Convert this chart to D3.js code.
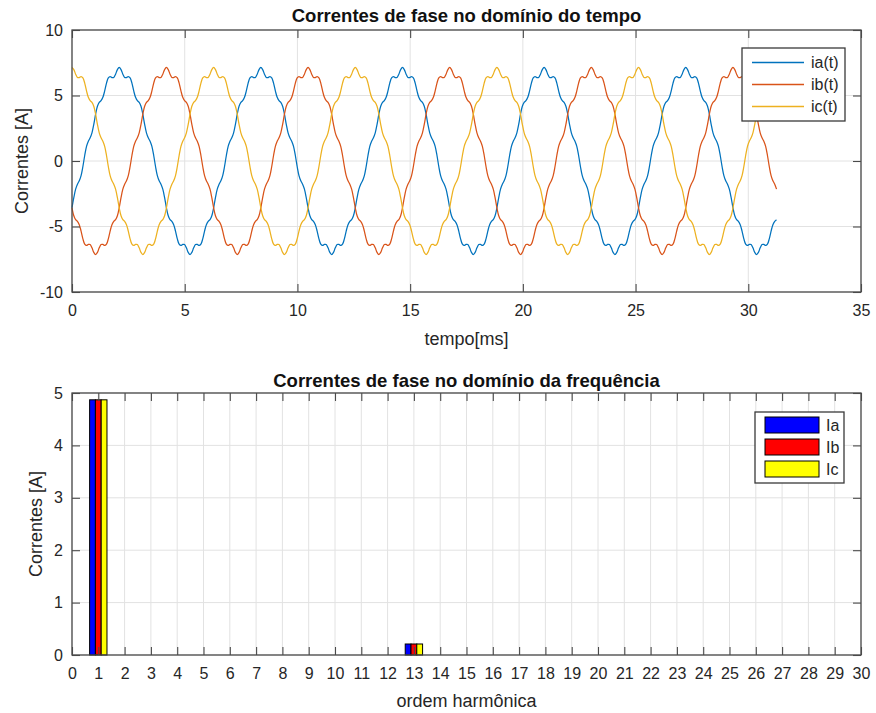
<!DOCTYPE html>
<html>
<head>
<meta charset="utf-8">
<script src="https://cdn.jsdelivr.net/npm/d3@7"></script>
<style>
    body { margin: 0; background: #fff; }
    text { font-family: "Liberation Sans", Arial, sans-serif; fill: #262626; }
</style>
</head>
<body>
<svg id="chart" width="876" height="713"></svg>
<script>
/* phase currents in the time domain, one fundamental cycle (78 samples), [A] */
var iaCycle = [
    -3.57, -2.80, -2.15, -1.77, -1.51, -1.11, -0.42, 0.42, 1.11, 1.51, 1.77, 2.15, 2.80,
    3.57, 4.18, 4.48, 4.61, 4.86, 5.35, 5.94, 6.35, 6.45, 6.37, 6.38, 6.63, 6.98,
    7.14, 6.98, 6.63, 6.38, 6.37, 6.45, 6.35, 5.94, 5.35, 4.86, 4.61, 4.48, 4.18,
    3.57, 2.80, 2.15, 1.77, 1.51, 1.11, 0.42, -0.42, -1.11, -1.51, -1.77, -2.15, -2.80,
    -3.57, -4.18, -4.48, -4.61, -4.86, -5.35, -5.94, -6.35, -6.45, -6.37, -6.38, -6.63, -6.98,
    -7.14, -6.98, -6.63, -6.38, -6.37, -6.45, -6.35, -5.94, -5.35, -4.86, -4.61, -4.48, -4.18
];
var ibCycle = [
    -3.57, -4.18, -4.48, -4.61, -4.86, -5.35, -5.94, -6.35, -6.45, -6.37, -6.38, -6.63, -6.98,
    -7.14, -6.98, -6.63, -6.38, -6.37, -6.45, -6.35, -5.94, -5.35, -4.86, -4.61, -4.48, -4.18,
    -3.57, -2.80, -2.15, -1.77, -1.51, -1.11, -0.42, 0.42, 1.11, 1.51, 1.77, 2.15, 2.80,
    3.57, 4.18, 4.48, 4.61, 4.86, 5.35, 5.94, 6.35, 6.45, 6.37, 6.38, 6.63, 6.98,
    7.14, 6.98, 6.63, 6.38, 6.37, 6.45, 6.35, 5.94, 5.35, 4.86, 4.61, 4.48, 4.18,
    3.57, 2.80, 2.15, 1.77, 1.51, 1.11, 0.42, -0.42, -1.11, -1.51, -1.77, -2.15, -2.80
];
var icCycle = [
    7.14, 6.98, 6.63, 6.38, 6.37, 6.45, 6.35, 5.94, 5.35, 4.86, 4.61, 4.48, 4.18,
    3.57, 2.80, 2.15, 1.77, 1.51, 1.11, 0.42, -0.42, -1.11, -1.51, -1.77, -2.15, -2.80,
    -3.57, -4.18, -4.48, -4.61, -4.86, -5.35, -5.94, -6.35, -6.45, -6.37, -6.38, -6.63, -6.98,
    -7.14, -6.98, -6.63, -6.38, -6.37, -6.45, -6.35, -5.94, -5.35, -4.86, -4.61, -4.48, -4.18,
    -3.57, -2.80, -2.15, -1.77, -1.51, -1.11, -0.42, 0.42, 1.11, 1.51, 1.77, 2.15, 2.80,
    3.57, 4.18, 4.48, 4.61, 4.86, 5.35, 5.94, 6.35, 6.45, 6.37, 6.38, 6.63, 6.98
];
var sampleStep = 0.08055;   // ms between samples
var sampleCount = 389;      // record runs 0 .. ~31.3 ms

var timeSeries = ["ia(t)", "ib(t)", "ic(t)"];
var timeColors = ["#0072bd", "#d95319", "#edb120"];
var timeTicks = [0, 5, 10, 15, 20, 25, 30, 35];
var currentTicks = [-10, -5, 0, 5, 10];

/* phase currents in the frequency domain (rms per harmonic order) */
var harmonicOrder = [1, 13];
var iaRms = [4.87, 0.21];
var ibRms = [4.87, 0.21];
var icRms = [4.87, 0.21];
var freqSeries = ["Ia", "Ib", "Ic"];
var freqColors = ["#0000ff", "#ff0000", "#ffff00"];
var harmonicTicks = [0, 1, 2, 3, 4, 5, 6, 7, 8, 9, 10, 11, 12, 13, 14, 15, 16, 17, 18, 19, 20,
    21, 22, 23, 24, 25, 26, 27, 28, 29, 30];
var rmsTicks = [0, 1, 2, 3, 4, 5];

var svg = d3.select("#chart");
var axisColor = "#4a4a4a",
    gridColor = "#e2e2e2";

// plain hyphen for negatives, like the matlab figure
var fmt = function(d) { return String(d); };

/* grid lines behind the data */
function drawFrame(g, x, y, xTicks, yTicks) {
    var x0 = x.range()[0], x1 = x.range()[1],
        y0 = y.range()[0], y1 = y.range()[1];

    var grid = g.append("g").attr("class", "grid");
    grid.selectAll("line.gx").data(xTicks).enter().append("line")
        .attr("class", "gx")
        .attr("x1", function(d) { return x(d); }).attr("x2", function(d) { return x(d); })
        .attr("y1", y0).attr("y2", y1)
        .attr("stroke", gridColor).attr("stroke-width", 1);
    grid.selectAll("line.gy").data(yTicks).enter().append("line")
        .attr("class", "gy")
        .attr("x1", x0).attr("x2", x1)
        .attr("y1", function(d) { return y(d); }).attr("y2", function(d) { return y(d); })
        .attr("stroke", gridColor).attr("stroke-width", 1);
}

/* box + inward ticks on all 4 sides */
function drawAxes(g, x, y, xTicks, yTicks) {
    var x0 = x.range()[0], x1 = x.range()[1],
        y0 = y.range()[0], y1 = y.range()[1];

    var bottom = g.append("g").attr("transform", "translate(0," + y0 + ")")
        .call(d3.axisBottom(x).tickValues(xTicks).tickSize(-8).tickPadding(13).tickFormat(fmt));
    var top = g.append("g").attr("transform", "translate(0," + y1 + ")")
        .call(d3.axisTop(x).tickValues(xTicks).tickSize(-8).tickFormat(""));
    var left = g.append("g").attr("transform", "translate(" + x0 + ",0)")
        .call(d3.axisLeft(y).tickValues(yTicks).tickSize(-8).tickPadding(9).tickFormat(fmt));
    var right = g.append("g").attr("transform", "translate(" + x1 + ",0)")
        .call(d3.axisRight(y).tickValues(yTicks).tickSize(-8).tickFormat(""));

    [bottom, top, left, right].forEach(function(a) {
        a.select(".domain").remove();
        a.selectAll(".tick line").attr("stroke", axisColor).attr("stroke-width", 1.1);
        a.selectAll(".tick text").attr("font-size", 16).attr("fill", "#333")
            .attr("font-family", "Liberation Sans, Arial, sans-serif");
    });

    g.append("rect")
        .attr("x", x0).attr("y", y1)
        .attr("width", x1 - x0).attr("height", y0 - y1)
        .attr("fill", "none").attr("stroke", axisColor).attr("stroke-width", 1.3);
}

/* ---------- top: time domain ---------- */
var xTime = d3.scaleLinear().domain([0, 35]).range([72, 861]);
var yCur = d3.scaleLinear().domain([-10, 10]).range([292, 30]);

var gTop = svg.append("g");
drawFrame(gTop, xTime, yCur, timeTicks, currentTicks);

var cycles = [iaCycle, ibCycle, icCycle];
var timeData = cycles.map(function(cycle) {
    return d3.range(sampleCount).map(function(k) {
        return { t: k * sampleStep, v: cycle[k % cycle.length] };
    });
});

var line = d3.line()
    .curve(d3.curveCatmullRom.alpha(0.5))
    .x(function(d) { return xTime(d.t); })
    .y(function(d) { return yCur(d.v); });

gTop.selectAll("path.wave").data(timeData).enter().append("path")
    .attr("class", "wave")
    .attr("d", line)
    .attr("fill", "none")
    .attr("stroke", function(d, i) { return timeColors[i]; })
    .attr("stroke-width", 1.25)
    .attr("stroke-linejoin", "round");

drawAxes(gTop, xTime, yCur, timeTicks, currentTicks);

gTop.append("text")
    .attr("x", (72 + 861) / 2).attr("y", 22)
    .attr("text-anchor", "middle")
    .attr("font-size", 18.5).attr("font-weight", "bold").style("fill", "#111")
    .text("Correntes de fase no domínio do tempo");
gTop.append("text")
    .attr("x", (72 + 861) / 2).attr("y", 345)
    .attr("text-anchor", "middle").attr("font-size", 18)
    .text("tempo[ms]");
gTop.append("text")
    .attr("transform", "translate(28,161) rotate(-90)")
    .attr("text-anchor", "middle").attr("font-size", 18)
    .text("Correntes [A]");

/* legend (top) */
var legTop = gTop.append("g").attr("transform", "translate(742,48)");
legTop.append("rect")
    .attr("width", 103).attr("height", 73)
    .attr("fill", "#fff").attr("stroke", "#3a3a3a").attr("stroke-width", 1.3);
var legTopItem = legTop.selectAll("g.item").data(timeSeries).enter().append("g")
    .attr("class", "item")
    .attr("transform", function(d, i) { return "translate(0," + (14.5 + i * 22) + ")"; });
legTopItem.append("line")
    .attr("x1", 10).attr("x2", 62).attr("y1", 0).attr("y2", 0)
    .attr("stroke", function(d, i) { return timeColors[i]; }).attr("stroke-width", 1.3);
legTopItem.append("text")
    .attr("x", 69).attr("y", 5.5).attr("font-size", 16)
    .text(function(d) { return d; });

/* ---------- bottom: frequency domain ---------- */
var xHarm = d3.scaleLinear().domain([0, 30]).range([72, 861]);
var yRms = d3.scaleLinear().domain([0, 5]).range([655, 393]);
var sub = d3.scaleBand().domain(freqSeries).range([-0.33, 0.33]);

var gBot = svg.append("g");
drawFrame(gBot, xHarm, yRms, harmonicTicks, rmsTicks);

var rmsBySeries = [iaRms, ibRms, icRms];
var barData = [];
harmonicOrder.forEach(function(h, j) {
    freqSeries.forEach(function(s, i) {
        barData.push({ h: h, s: s, i: i, v: rmsBySeries[i][j] });
    });
});

gBot.selectAll("rect.bar").data(barData).enter().append("rect")
    .attr("class", "bar")
    .attr("x", function(d) { return xHarm(d.h + sub(d.s)); })
    .attr("width", function(d) { return xHarm(sub.bandwidth()) - xHarm(0); })
    .attr("y", function(d) { return yRms(d.v); })
    .attr("height", function(d) { return yRms(0) - yRms(d.v); })
    .attr("fill", function(d) { return freqColors[d.i]; })
    .attr("stroke", "#000").attr("stroke-width", 1);

drawAxes(gBot, xHarm, yRms, harmonicTicks, rmsTicks);

gBot.append("text")
    .attr("x", (72 + 861) / 2).attr("y", 387)
    .attr("text-anchor", "middle")
    .attr("font-size", 18.5).attr("font-weight", "bold").style("fill", "#111")
    .text("Correntes de fase no domínio da frequência");
gBot.append("text")
    .attr("x", (72 + 861) / 2).attr("y", 707)
    .attr("text-anchor", "middle").attr("font-size", 18)
    .text("ordem harmônica");
gBot.append("text")
    .attr("transform", "translate(42,524) rotate(-90)")
    .attr("text-anchor", "middle").attr("font-size", 18)
    .text("Correntes [A]");

/* legend (bottom) */
var legBot = gBot.append("g").attr("transform", "translate(755,412)");
legBot.append("rect")
    .attr("width", 89).attr("height", 71)
    .attr("fill", "#fff").attr("stroke", "#3a3a3a").attr("stroke-width", 1.3);
var legBotItem = legBot.selectAll("g.item").data(freqSeries).enter().append("g")
    .attr("class", "item")
    .attr("transform", function(d, i) { return "translate(0," + (5 + i * 22) + ")"; });
legBotItem.append("rect")
    .attr("x", 10).attr("width", 54).attr("height", 16)
    .attr("fill", function(d, i) { return freqColors[i]; })
    .attr("stroke", "#000").attr("stroke-width", 1);
legBotItem.append("text")
    .attr("x", 71).attr("y", 14).attr("font-size", 16)
    .text(function(d) { return d; });
</script>
</body>
</html>
